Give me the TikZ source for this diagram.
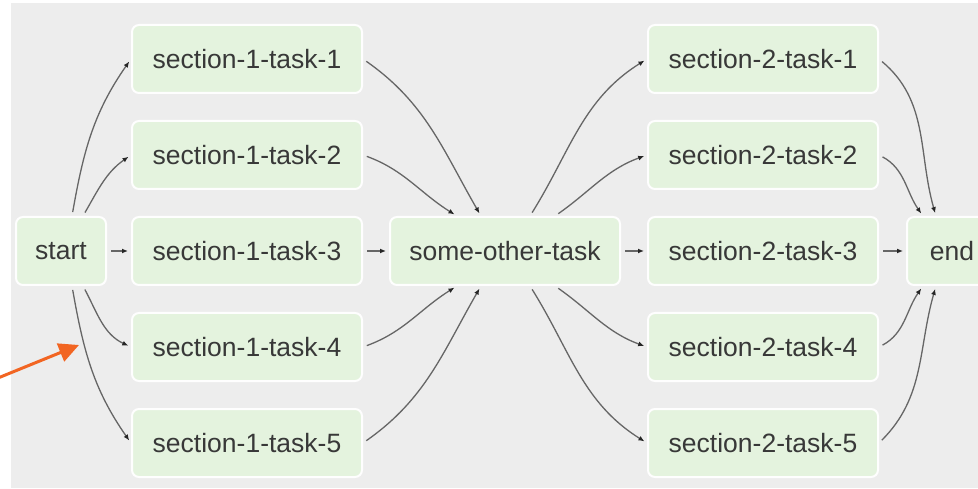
\documentclass[tikz,border=0pt]{standalone}
\usepackage{fontspec}
\setmainfont{Liberation Sans}
\usepackage{tikz}
\usetikzlibrary{arrows.meta,positioning}

\definecolor{bggrey}{RGB}{237,237,237}
\definecolor{taskgreen}{RGB}{228,243,222}
\definecolor{pointer}{RGB}{242,101,34}

\tikzset{
  taskbox/.style={draw=white!96!bggrey,line width=2pt,fill=taskgreen,rounded corners=7pt,minimum height=68pt,inner sep=0pt,text=black!78,font=\fontsize{26.5}{30}\selectfont},
  wide/.style={taskbox,minimum width=230pt},
  narrow/.style={taskbox,minimum width=90pt},
  flow/.style={draw=black!60,line width=1.3pt,-{Latex[length=6pt,width=5pt,color=black!85]},shorten <=4pt,shorten >=3pt}
}

\begin{document}
\begin{tikzpicture}[x=1pt,y=1pt]
\useasboundingbox (0,0) rectangle (978,488);
\fill[bggrey] (11,0) rectangle (978,485);

% first column
\node[narrow] (start) at (61,237) {start};
% section one
\node[wide] (s1t1) at (247,429) {section-1-task-1};
\node[wide] (s1t2) at (247,333) {section-1-task-2};
\node[wide] (s1t3) at (247,237) {section-1-task-3};
\node[wide] (s1t4) at (247,141) {section-1-task-4};
\node[wide] (s1t5) at (247,45) {section-1-task-5};
% middle
\node[wide] (other) at (505,237) {some-other-task};
% section two
\node[wide] (s2t1) at (763,429) {section-2-task-1};
\node[wide] (s2t2) at (763,333) {section-2-task-2};
\node[wide] (s2t3) at (763,237) {section-2-task-3};
\node[wide] (s2t4) at (763,141) {section-2-task-4};
\node[wide] (s2t5) at (763,45) {section-2-task-5};
% last column
\node[narrow] (end) at (952,237) {end};

% start to section one
\draw[flow] ([xshift=11pt]start.north) to[out=80,in=235] (s1t1.west);
\draw[flow] ([xshift=22pt]start.north) to[out=60,in=215] (s1t2.west);
\draw[flow] (start.east) -- (s1t3.west);
\draw[flow] ([xshift=22pt]start.south) to[out=-62,in=155] (s1t4.west);
\draw[flow] ([xshift=11pt]start.south) to[out=-80,in=125] (s1t5.west);

% section one to middle
\draw[flow] (s1t1.east) to[out=-35,in=120] ([xshift=-24pt]other.north);
\draw[flow] (s1t2.east) to[out=-20,in=148] ([xshift=-48pt]other.north);
\draw[flow] (s1t3.east) -- (other.west);
\draw[flow] (s1t4.east) to[out=20,in=212] ([xshift=-48pt]other.south);
\draw[flow] (s1t5.east) to[out=35,in=240] ([xshift=-24pt]other.south);

% middle to section two
\draw[flow] ([xshift=25pt]other.north) to[out=58,in=212] (s2t1.west);
\draw[flow] ([xshift=50pt]other.north) to[out=35,in=200] (s2t2.west);
\draw[flow] (other.east) -- (s2t3.west);
\draw[flow] ([xshift=50pt]other.south) to[out=-35,in=160] (s2t4.west);
\draw[flow] ([xshift=25pt]other.south) to[out=-58,in=148] (s2t5.west);

% section two to end
\draw[flow] (s2t1.east) to[out=-40,in=106] ([xshift=-16pt]end.north);
\draw[flow] (s2t2.east) to[out=-28,in=125] ([xshift=-29pt]end.north);
\draw[flow] (s2t3.east) -- (end.west);
\draw[flow] (s2t4.east) to[out=28,in=235] ([xshift=-29pt]end.south);
\draw[flow] (s2t5.east) to[out=45,in=254] ([xshift=-16pt]end.south);

% pointer
\coordinate (tail) at (-2,110);
\coordinate (tip) at (79,143);
\draw[pointer,line width=3pt,-{Triangle[length=20pt,width=19pt]}] (tail) -- (tip);
\end{tikzpicture}
\end{document}
